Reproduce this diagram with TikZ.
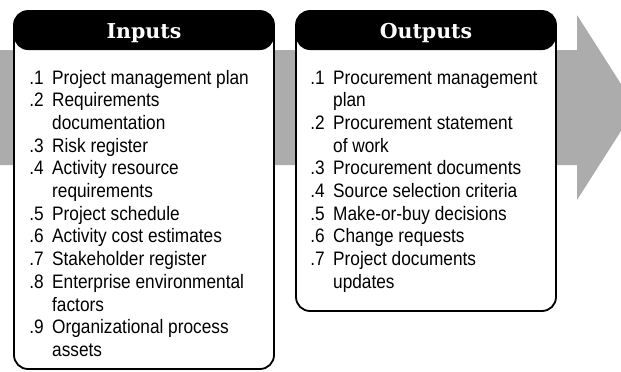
\documentclass[tikz,border=0pt]{standalone}
\usepackage{fontspec}
\setmainfont{Liberation Sans}[FakeStretch=0.885]
\newfontfamily\headfont{DejaVu Serif}
\usetikzlibrary{calc}

% numbers hang to the left of each item
\newcommand\inum[1]{\llap{#1\hspace{8.5pt}}}

\definecolor{flowgray}{RGB}{172,172,172}

\tikzset{
  panel/.style={draw=black, line width=1.8pt, rounded corners=14pt, fill=white,
    inner sep=0pt, minimum width=260pt,
    path picture={\fill[black] (path picture bounding box.north west)
      rectangle ([yshift=-39pt]path picture bounding box.north east);}},
  paneltitle/.style={anchor=base, text=white, font=\headfont\bfseries\fontsize{20.5}{24}\selectfont},
  itemlist/.style={anchor=base west, inner sep=0pt, font=\fontsize{19.5}{22.7}\selectfont}
}

\begin{document}
\begin{tikzpicture}[x=1pt, y=-1pt]
  \useasboundingbox (0,0) rectangle (621,372);
  \clip (0,0) rectangle (621,372);

  % broad process arrow in the background
  \fill[flowgray] (0,50) -- (577,50) -- (577,15) -- (636,107.5)
    -- (577,200) -- (577,165) -- (0,165) -- cycle;

  % panels
  \node[panel, minimum height=358pt] (inbox) at (144,190) {};
  \node[panel, minimum height=300pt] (outbox) at (426,161) {};

  \node[paneltitle] (intitle) at (inbox.north |- 0,38.5) {Inputs};
  \node[paneltitle] (outtitle) at (outbox.north |- 0,38.5) {Outputs};

  \node[itemlist] (inlist) at (52,84) {%
    \begin{tabular}[t]{@{}l@{}}
      \inum{.1}Project management plan\\
      \inum{.2}Requirements\\
      documentation\\
      \inum{.3}Risk register\\
      \inum{.4}Activity resource\\
      requirements\\
      \inum{.5}Project schedule\\
      \inum{.6}Activity cost estimates\\
      \inum{.7}Stakeholder register\\
      \inum{.8}Enterprise environmental\\
      factors\\
      \inum{.9}Organizational process\\
      assets
    \end{tabular}};

  \node[itemlist] (outlist) at (333,84) {%
    \begin{tabular}[t]{@{}l@{}}
      \inum{.1}Procurement management\\
      plan\\
      \inum{.2}Procurement statement\\
      of work\\
      \inum{.3}Procurement documents\\
      \inum{.4}Source selection criteria\\
      \inum{.5}Make-or-buy decisions\\
      \inum{.6}Change requests\\
      \inum{.7}Project documents\\
      updates
    \end{tabular}};
\end{tikzpicture}
\end{document}
